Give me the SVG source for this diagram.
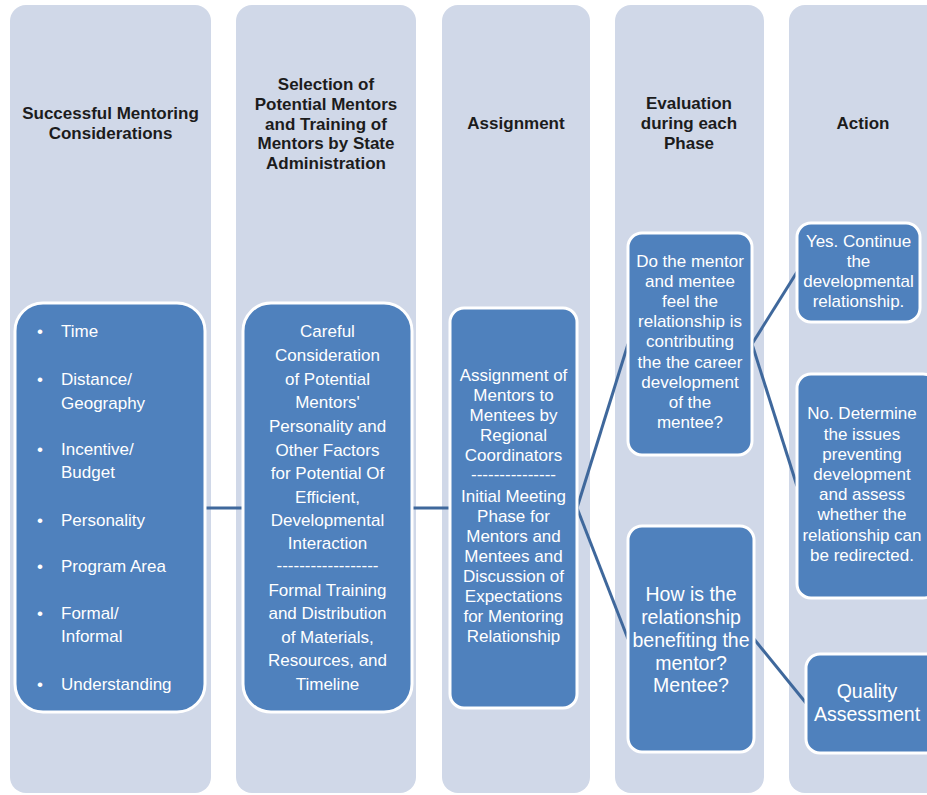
<svg xmlns="http://www.w3.org/2000/svg" width="927" height="795" viewBox="0 0 927 795">
  <style>
    .lane { fill: #D0D8E8; }
    .box { fill: #4F81BD; stroke: #FFFFFF; stroke-width: 3; }
    .head { font-family: "Liberation Sans", Arial, sans-serif; font-weight: bold; font-size: 17px; fill: #1C1C1C; text-anchor: middle; }
    .body { font-family: "Liberation Sans", Arial, sans-serif; font-size: 17px; fill: #FFFFFF; text-anchor: middle; }
    .list { font-family: "Liberation Sans", Arial, sans-serif; font-size: 17px; fill: #FFFFFF; }
    .big { font-size: 19.5px; }
    .link { fill: none; stroke: #3F689C; stroke-width: 3; }
  </style>
  <rect width="927" height="795" fill="#FFFFFF"/>

  <!-- phase lanes with headings -->
  <g id="lane-considerations">
    <rect class="lane" x="10" y="5" width="201" height="788" rx="16"/>
    <text class="head" x="110.5" y="119">Successful Mentoring</text>
    <text class="head" x="110.5" y="139">Considerations</text>
  </g>
  <g id="lane-selection">
    <rect class="lane" x="236" y="5" width="180" height="788" rx="16"/>
    <text class="head" x="326" y="90">Selection of</text>
    <text class="head" x="326" y="110">Potential Mentors</text>
    <text class="head" x="326" y="130">and Training of</text>
    <text class="head" x="326" y="149">Mentors by State</text>
    <text class="head" x="326" y="169">Administration</text>
  </g>
  <g id="lane-assignment">
    <rect class="lane" x="442" y="5" width="148" height="788" rx="16"/>
    <text class="head" x="516" y="129">Assignment</text>
  </g>
  <g id="lane-evaluation">
    <rect class="lane" x="615" y="5" width="149" height="788" rx="16"/>
    <text class="head" x="689" y="109">Evaluation</text>
    <text class="head" x="689" y="129">during each</text>
    <text class="head" x="689" y="149">Phase</text>
  </g>
  <g id="lane-action">
    <rect class="lane" x="789" y="5" width="160" height="788" rx="16"/>
    <text class="head" x="863" y="129">Action</text>
  </g>

  <!-- connectors -->
  <g id="connectors">
    <line class="link" x1="205" y1="508" x2="243" y2="508"/>
    <line class="link" x1="412" y1="508" x2="450" y2="508"/>
    <line class="link" x1="577" y1="508" x2="628" y2="344"/>
    <line class="link" x1="577" y1="508" x2="628" y2="639"/>
    <line class="link" x1="752" y1="344" x2="797" y2="272"/>
    <line class="link" x1="752" y1="344" x2="797" y2="486"/>
    <line class="link" x1="754" y1="639" x2="806" y2="703"/>
  </g>

  <g id="considerations">
    <rect class="box" x="15" y="303" width="190" height="409" rx="28"/>
    <g class="list">
      <text x="37" y="337">•</text><text x="61" y="337">Time</text>
      <text x="37" y="385">•</text><text x="61" y="385">Distance/</text>
      <text x="61" y="409">Geography</text>
      <text x="37" y="455">•</text><text x="61" y="455">Incentive/</text>
      <text x="61" y="478">Budget</text>
      <text x="37" y="526">•</text><text x="61" y="526">Personality</text>
      <text x="37" y="572">•</text><text x="61" y="572">Program Area</text>
      <text x="37" y="619">•</text><text x="61" y="619">Formal/</text>
      <text x="61" y="642">Informal</text>
      <text x="37" y="690">•</text><text x="61" y="690">Understanding</text>
    </g>
  </g>

  <g id="selection">
    <rect class="box" x="243" y="303" width="169" height="409" rx="28"/>
    <g class="body">
      <text x="327.5" y="337">Careful</text>
      <text x="327.5" y="361">Consideration</text>
      <text x="327.5" y="385">of Potential</text>
      <text x="327.5" y="408">Mentors'</text>
      <text x="327.5" y="432">Personality and</text>
      <text x="327.5" y="456">Other Factors</text>
      <text x="327.5" y="479">for Potential Of</text>
      <text x="327.5" y="503">Efficient,</text>
      <text x="327.5" y="526">Developmental</text>
      <text x="327.5" y="549">Interaction</text>
      <text x="327.5" y="571">------------------</text>
      <text x="327.5" y="596">Formal Training</text>
      <text x="327.5" y="619">and Distribution</text>
      <text x="327.5" y="643">of Materials,</text>
      <text x="327.5" y="666">Resources, and</text>
      <text x="327.5" y="690">Timeline</text>
    </g>
  </g>

  <g id="assignment">
    <rect class="box" x="450" y="308" width="127" height="400" rx="14"/>
    <g class="body">
      <text x="513.5" y="381">Assignment of</text>
      <text x="513.5" y="401">Mentors to</text>
      <text x="513.5" y="421">Mentees by</text>
      <text x="513.5" y="441">Regional</text>
      <text x="513.5" y="461">Coordinators</text>
      <text x="513.5" y="480">---------------</text>
      <text x="513.5" y="502">Initial Meeting</text>
      <text x="513.5" y="522">Phase for</text>
      <text x="513.5" y="542">Mentors and</text>
      <text x="513.5" y="562">Mentees and</text>
      <text x="513.5" y="582">Discussion of</text>
      <text x="513.5" y="602">Expectations</text>
      <text x="513.5" y="622">for Mentoring</text>
      <text x="513.5" y="642">Relationship</text>
    </g>
  </g>

  <g id="eval-contribution">
    <rect class="box" x="628" y="233" width="124" height="222" rx="14"/>
    <g class="body">
      <text x="690" y="267">Do the mentor</text>
      <text x="690" y="287">and mentee</text>
      <text x="690" y="307">feel the</text>
      <text x="690" y="327">relationship is</text>
      <text x="690" y="347">contributing</text>
      <text x="690" y="368">the the career</text>
      <text x="690" y="388">development</text>
      <text x="690" y="408">of the</text>
      <text x="690" y="428">mentee?</text>
    </g>
  </g>

  <g id="eval-benefit">
    <rect class="box" x="628" y="526" width="126" height="226" rx="14"/>
    <g class="body big">
      <text x="691" y="601">How is the</text>
      <text x="691" y="624">relationship</text>
      <text x="691" y="647">benefiting the</text>
      <text x="691" y="670">mentor?</text>
      <text x="691" y="692">Mentee?</text>
    </g>
  </g>

  <g id="action-continue">
    <rect class="box" x="797" y="223" width="123" height="99" rx="14"/>
    <g class="body">
      <text x="858.5" y="247">Yes. Continue</text>
      <text x="858.5" y="267">the</text>
      <text x="858.5" y="287">developmental</text>
      <text x="858.5" y="307">relationship.</text>
    </g>
  </g>

  <g id="action-redirect">
    <rect class="box" x="797" y="374" width="140" height="224" rx="14"/>
    <g class="body">
      <text x="862" y="419">No. Determine</text>
      <text x="862" y="440">the issues</text>
      <text x="862" y="460">preventing</text>
      <text x="862" y="480">development</text>
      <text x="862" y="500">and assess</text>
      <text x="862" y="520">whether the</text>
      <text x="862" y="541">relationship can</text>
      <text x="862" y="561">be redirected.</text>
    </g>
  </g>

  <g id="action-quality">
    <rect class="box" x="806" y="654" width="135" height="99" rx="14"/>
    <g class="body big">
      <text x="867" y="698">Quality</text>
      <text x="867" y="721">Assessment</text>
    </g>
  </g>
</svg>
